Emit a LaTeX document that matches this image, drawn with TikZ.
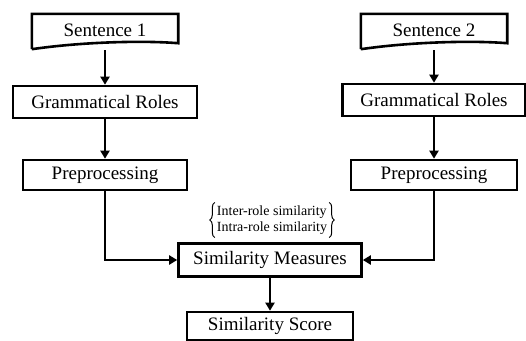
\documentclass[tikz,border=0pt]{standalone}
\usepackage{fontspec}
\setmainfont{Liberation Serif}
\usetikzlibrary{arrows.meta,decorations.pathreplacing}

\begin{document}
\begin{tikzpicture}[x=1pt,y=-1pt,
        box/.style={draw=black,line width=2.6pt,inner sep=0pt,
            font=\fontsize{19}{22}\selectfont},
        docbox/.style={inner sep=0pt,minimum width=146pt,minimum height=36pt,
            font=\fontsize{19}{22}\selectfont},
        flow/.style={line width=2.4pt,-{Triangle[length=8pt,width=9pt]}},
        curly/.style={decorate,line width=1pt,decoration={brace,amplitude=5pt}}]
        \useasboundingbox (0,0) rectangle (526,340);

        % Document shape with a wavy lower edge
        \def\docshape#1{
            \draw[line width=2.6pt,line join=miter]
                ([yshift=1pt]#1.south west) -- (#1.north west) -- (#1.north east)
                -- ([yshift=7pt]#1.south east)
                .. controls +(-38,-3) and +(48,-7) .. ([yshift=1pt]#1.south west);
        }

        % Input sentences
        \node[docbox] (s1) at (105,32) {\raisebox{3pt}{Sentence 1}};
        \node[docbox] (s2) at (434,32) {\raisebox{3pt}{Sentence 2}};
        \docshape{s1}
        \docshape{s2}

        % Left branch
        \node[box,minimum width=184pt,minimum height=32pt] (g1) at (105,102) {Grammatical Roles};
        \node[box,minimum width=164pt,minimum height=30pt] (p1) at (105,175) {Preprocessing};

        % Right branch
        \node[box,minimum width=183pt,minimum height=32pt] (g2) at (434,100) {Grammatical Roles};
        \node[box,minimum width=166pt,minimum height=30pt] (p2) at (434,175) {Preprocessing};

        % Merge and score
        \node[box,minimum width=183pt,minimum height=33pt] (sm) at (270,260) {Similarity Measures};
        \node[box,minimum width=166pt,minimum height=28pt] (sc) at (270,326) {Similarity Score};
        \node[inner xsep=2pt,inner ysep=3pt,align=left,font=\fontsize{14}{16}\selectfont]
            (kinds) at (272,220) {Inter-role similarity\\Intra-role similarity};
        \draw[curly] (kinds.south west) -- (kinds.north west);
        \draw[curly] (kinds.north east) -- (kinds.south east);

        \draw[flow] (s1.south) -- (g1.north);
        \draw[flow] (g1.south) -- (p1.north);
        \draw[flow] (s2.south) -- (g2.north);
        \draw[flow] (g2.south) -- (p2.north);
        \draw[flow] (p1.south) |- (sm.west);
        \draw[flow] (p2.south) |- (sm.east);
        \draw[flow] (sm.south) -- (sc.north);
    \end{tikzpicture}
\end{document}
